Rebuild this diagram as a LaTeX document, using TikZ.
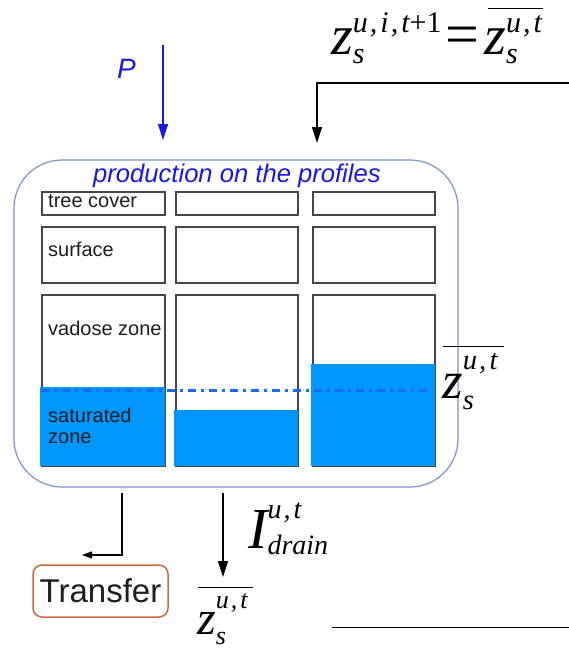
\documentclass[tikz,border=0pt]{standalone}
\usepackage{fontspec}
\setmainfont{Liberation Sans}
\newfontfamily\serfam{Liberation Serif}
\usetikzlibrary{arrows.meta}
\definecolor{water}{RGB}{0,150,255}
\definecolor{wline}{RGB}{25,105,250}
\definecolor{framec}{RGB}{120,150,200}
\definecolor{titleblue}{RGB}{25,25,230}
\definecolor{boxgray}{RGB}{70,70,70}
\definecolor{transferc}{RGB}{210,105,60}
\definecolor{txt}{RGB}{30,30,30}
\newcommand{\zsym}[1]{{\serfam\itshape\fontsize{48}{48}\selectfont z\fontsize{26}{26}\selectfont\rlap{\raisebox{-10pt}{s}}\raisebox{26pt}{#1}}}
\newcommand{\zbarsym}{\rlap{\kern1pt\raisebox{46pt}{\rule{55pt}{1.2pt}}}\zsym{u\kern2pt,\kern3pt t}}
\newcommand{\zbig}[1]{{\serfam\itshape\fontsize{56}{56}\selectfont z\fontsize{30}{30}\selectfont\rlap{\raisebox{-9pt}{s}}\raisebox{22pt}{#1}}}
\tikzset{
  profbox/.style={draw=boxgray, line width=1.5pt, anchor=north west, inner sep=0pt, minimum width=123pt},
  lbl/.style={anchor=base west, inner sep=0pt, text=txt, font=\fontsize{20}{22}\selectfont},
  formula/.style={anchor=base west, inner sep=0pt},
  arr/.style={line width=1.1pt, -{Triangle[length=16pt,width=10pt]}},
  smallarr/.style={line width=1.1pt, -{Triangle[length=10pt,width=7pt]}},
  water/.style={fill=water},
  wlevel/.style={wline, line width=3pt, dash pattern=on 8pt off 5pt on 3pt off 5pt}
}
\begin{document}
\begin{tikzpicture}[x=1pt,y=-1pt]
\useasboundingbox (0,0) rectangle (569,651);
\fill[white] (0,0) rectangle (569,651);

% precipitation
\coordinate (Ptop) at (163,45);
\coordinate (Pend) at (163,140);
\draw[arr, color=titleblue] (Ptop) -- (Pend);
\node[anchor=base west, inner sep=0pt, text=titleblue, font=\fontsize{28}{28}\selectfont\itshape] (Plbl) at (117,78) {P};

% top formula
\node[formula] (topf) at (331,54) {\zbig{u\kern2pt,\kern3pt i\kern2pt,\kern3pt t{\upshape +1}}{\serfam\fontsize{60}{60}\selectfont\kern4pt=\kern5pt}\rlap{\kern4pt\raisebox{45pt}{\rule{55pt}{1.3pt}}}\zbig{u\kern2pt,\kern3pt t}};

% top connector
\coordinate (topR) at (569,83);
\coordinate (topC) at (317,83);
\coordinate (topEnd) at (317,143);
\draw[arr] (topR) -- (topC) -- (topEnd);

% production frame
\node[draw=framec, line width=1.2pt, rounded corners=48pt, minimum width=444pt, minimum height=327pt, inner sep=0pt] (prod) at (236,323.5) {};
\node[anchor=base west, inner sep=0pt, text=titleblue, font=\fontsize{25.6}{26}\selectfont\itshape] (title) at (93,182) {production on the profiles};

% profile boxes
\node[profbox, minimum height=23pt] (t1) at (41,191) {};
\node[profbox, minimum height=23pt, minimum width=122pt] (t2) at (175,191) {};
\node[profbox, minimum height=23pt, minimum width=122pt] (t3) at (312,191) {};
\node[profbox, minimum height=56pt] (s1) at (41,226) {};
\node[profbox, minimum height=56pt, minimum width=122pt] (s2) at (175,226) {};
\node[profbox, minimum height=56pt, minimum width=122pt] (s3) at (312,226) {};
\node[profbox, minimum height=171pt] (v1) at (41,294) {};
\node[profbox, minimum height=171pt, minimum width=122pt] (v2) at (175,294) {};
\node[profbox, minimum height=171pt, minimum width=122pt] (v3) at (312,294) {};

% water
\fill[water] (40.2,387) rectangle (164.8,465.8);
\fill[water] (174.2,410) rectangle (297.8,465.8);
\fill[water] (311.2,364) rectangle (434.8,465.8);
\draw[wlevel] (41,390) -- (428,390);

% labels
\node[lbl] (ltc) at (48,207) {tree cover};
\node[lbl] (lsf) at (48,256) {surface};
\node[lbl] (lvz) at (48,335) {vadose zone};
\node[lbl] (lsz1) at (48,422) {saturated};
\node[lbl] (lsz2) at (48,443) {zone};

% right formula
\node[formula] (rightf) at (442,398) {\scalebox{1.1}{\zbarsym}};

% outputs
\coordinate (trA) at (122,493);
\coordinate (trB) at (122,555);
\coordinate (trC) at (82,555);
\draw[smallarr] (trA) -- (trB) -- (trC);
\node[draw=transferc, line width=1.5pt, rounded corners=9pt, minimum width=135pt, minimum height=52pt, inner sep=0pt, font=\fontsize{33}{33}\selectfont, text=txt] (transfer) at (100.5,591) {Transfer};

\coordinate (drA) at (223,493);
\coordinate (drB) at (223,577);
\draw[arr] (drA) -- (drB);
\node[formula] (drain) at (248,548) {\serfam\itshape{\fontsize{58}{58}\selectfont I}\fontsize{28}{28}\selectfont\rlap{\raisebox{-6pt}{drain}}\raisebox{30pt}{u\kern2pt,\kern3pt t}};

\node[formula] (botf) at (197,634) {\zbarsym};

\coordinate (blA) at (332,627);
\coordinate (blB) at (569,627);
\draw[line width=1pt] (blA) -- (blB);
\end{tikzpicture}
\end{document}
